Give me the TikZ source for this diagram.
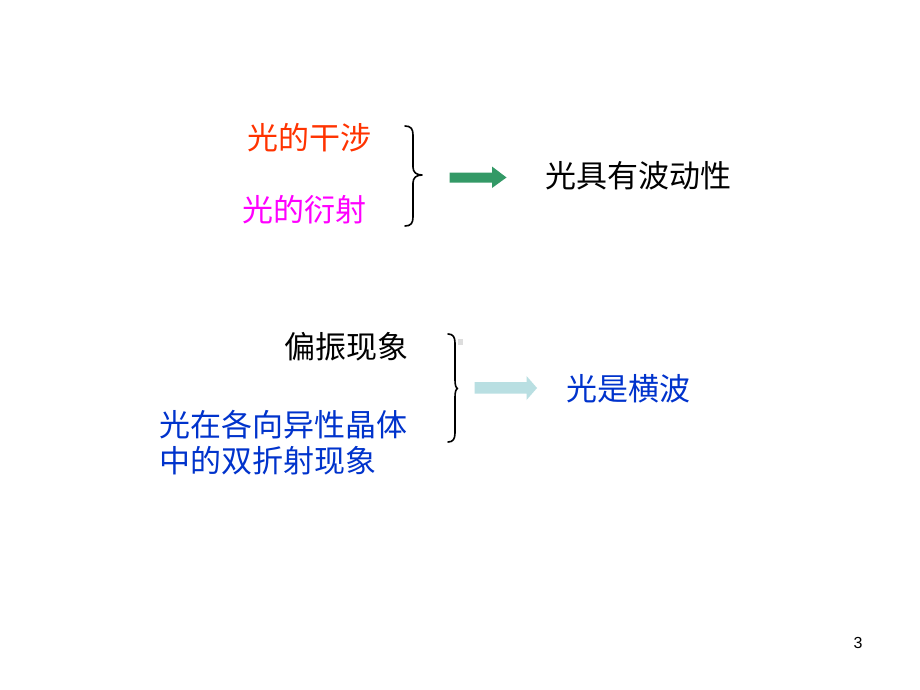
\documentclass[tikz,border=0pt]{standalone}
\usepackage{fontspec}
\setmainfont{Liberation Sans}
\newfontfamily\cjk{Noto Sans CJK SC}
\definecolor{redor}{HTML}{FF3300}
\definecolor{mag}{HTML}{FF00FF}
\definecolor{bluet}{HTML}{0033CC}
\definecolor{greenar}{HTML}{339966}
\definecolor{cyanar}{HTML}{B9DFE2}
\definecolor{sq}{HTML}{DDDDDD}
\begin{document}
\begin{tikzpicture}[x=1pt,y=-1pt,
  lbl/.style={anchor=base west,inner sep=0pt,font=\cjk\fontsize{31}{36}\selectfont},
  bracestyle/.style={draw=black,line width=1.6pt,line cap=round,line join=round}]
\useasboundingbox (0,0) rectangle (920,690);
\fill[white] (0,0) rectangle (920,690);
% top group
\node[lbl,text=redor] (interf) at (247.5,149) {光的干涉};
\node[lbl,text=mag] (diffr) at (242.5,221) {光的衍射};
\draw[bracestyle] (405,126) .. controls (411,126) and (413,129) .. (413,135) -- (413,167)
  .. controls (413,172) and (416,175) .. (422,175)
  .. controls (416,175) and (413,178) .. (413,183) -- (413,217)
  .. controls (413,223) and (411,226) .. (405,226);
\fill[greenar] (449.5,172.5) -- (492,172.5) -- (492,166.5) -- (506.5,177.5) -- (492,188) -- (492,182.5) -- (449.5,182.5) -- cycle;
\node[lbl,text=black] (wave) at (545.5,187) {光具有波动性};
% bottom group
\node[lbl,text=black] (polar) at (284.5,358) {偏振现象};
\fill[sq] (457.5,339) rectangle (462.5,345);
\node[lbl,text=bluet] (biref1) at (159.5,436) {光在各向异性晶体};
\node[lbl,text=bluet] (biref2) at (159.5,472) {中的双折射现象};
\draw[bracestyle] (448,334) .. controls (453,334) and (455,337) .. (455,343) -- (455,380)
  .. controls (455,385) and (456,388) .. (457.5,388.5)
  .. controls (456,389) and (455,392) .. (455,397) -- (455,433)
  .. controls (455,439) and (453,442) .. (448,442);
\fill[cyanar] (474.5,382) -- (526.5,382) -- (526.5,376) -- (537,388) -- (526.5,400) -- (526.5,393.5) -- (474.5,393.5) -- cycle;
\node[lbl,text=bluet] (trans) at (566.5,400) {光是横波};
% page number
\node[inner sep=0pt,font=\fontsize{16}{18}\selectfont] (pg) at (858,643) {3};
\end{tikzpicture}
\end{document}
